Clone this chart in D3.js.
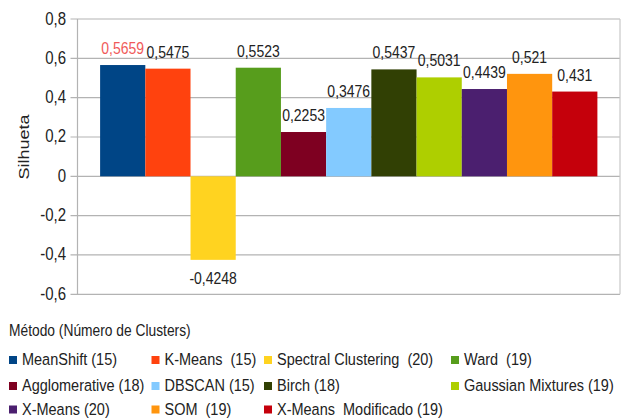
<!DOCTYPE html>
<html>
<head>
<meta charset="utf-8">
<script src="https://cdn.jsdelivr.net/npm/d3@7"></script>
<style>
  html, body { margin: 0; padding: 0; background: #fff; }
  svg text { font-family: "Liberation Sans", Arial, sans-serif; fill: #222; white-space: pre; }
</style>
</head>
<body>
<svg id="chart" width="627" height="419"></svg>
<script>
// ---- data ----
const methods = ["MeanShift", "K-Means", "Spectral Clustering", "Ward", "Agglomerative", "DBSCAN", "Birch", "Gaussian Mixtures", "X-Means", "SOM", "X-Means Modificado"];
const legendLabels = ["MeanShift (15)", "K-Means  (15)", "Spectral Clustering  (20)", "Ward  (19)", "Agglomerative (18)", "DBSCAN (15)", "Birch (18)", "Gaussian Mixtures (19)", "X-Means (20)", "SOM  (19)", "X-Means  Modificado (19)"];
const silhouette = [0.5659, 0.5475, -0.4248, 0.5523, 0.2253, 0.3476, 0.5437, 0.5031, 0.4439, 0.521, 0.431];
const valueLabels = ["0,5659", "0,5475", "-0,4248", "0,5523", "0,2253", "0,3476", "0,5437", "0,5031", "0,4439", "0,521", "0,431"];
const yTicks = [-0.6, -0.4, -0.2, 0, 0.2, 0.4, 0.6, 0.8];
const yTickLabels = ["-0,6", "-0,4", "-0,2", "0", "0,2", "0,4", "0,6", "0,8"];
const palette = ["#004586", "#ff420e", "#ffd320", "#579d1c", "#7e0021", "#83caff", "#314004", "#aecf00", "#4b1f6f", "#ff950e", "#c5000b"];
const yTitle = "Silhueta";
const legendTitle = "Método (Número de Clusters)";

// ---- layout ----
const svg = d3.select("#chart");
const plotL = 77.5, plotR = 620, plotT = 19, plotB = 294.3;
const SY = 1.2; // vertical text stretch

const x = d3.scaleBand().domain(methods).range([plotL, plotR]).paddingInner(0).paddingOuter(0.5);
const y = d3.scaleLinear().domain([-0.6, 0.8]).range([plotB, plotT]);
const color = d3.scaleOrdinal().domain(methods).range(palette);

function stext(g, px, py, str, size, anchor, fill) {
  return g.append("text")
    .attr("transform", `translate(${px},${py}) scale(1,${SY})`)
    .attr("text-anchor", anchor)
    .style("font-size", size + "px")
    .style("fill", fill || "#222")
    .text(str);
}

// gridlines + ticks
const grid = svg.append("g");
yTicks.forEach((t, i) => {
  grid.append("line")
    .attr("x1", plotL - 7).attr("x2", plotR)
    .attr("y1", y(t)).attr("y2", y(t))
    .attr("stroke", "#b3b3b3").attr("stroke-width", 1.2);
  stext(grid, 66, y(t) + 5.5, yTickLabels[i], 15, "end");
});
// frame
svg.append("line").attr("x1", plotL).attr("x2", plotL).attr("y1", plotT).attr("y2", plotB)
  .attr("stroke", "#b3b3b3").attr("stroke-width", 1.2);
svg.append("line").attr("x1", plotR).attr("x2", plotR).attr("y1", plotT).attr("y2", plotB)
  .attr("stroke", "#c8c8c8").attr("stroke-width", 1.2);

// bars
svg.append("g").selectAll("rect").data(methods).join("rect")
  .attr("x", d => x(d))
  .attr("width", x.bandwidth())
  .attr("y", (d, i) => y(Math.max(0, silhouette[i])))
  .attr("height", (d, i) => Math.abs(y(silhouette[i]) - y(0)))
  .attr("fill", d => color(d));

// value labels
const lab = svg.append("g");
methods.forEach((m, i) => {
  const v = silhouette[i];
  const cx = x(m) + x.bandwidth() / 2;
  const py = v >= 0 ? y(v) - 11 : y(v) + 24;
  stext(lab, cx, py, valueLabels[i], 14, "middle", i === 0 ? "#f05a5a" : "#222");
});

// y title
svg.append("text")
  .attr("transform", `translate(29,147) rotate(-90) scale(${SY},1)`)
  .attr("text-anchor", "middle")
  .style("font-size", "15px")
  .text(yTitle);

// legend
const leg = svg.append("g");
stext(leg, 9, 336, legendTitle, 13.8, "start");
const colX = [9, 151.5, 264, 451];
const rowY = [360, 386, 409.5];
methods.forEach((m, i) => {
  const r = Math.floor(i / 4), c = i % 4;
  leg.append("rect")
    .attr("x", colX[c]).attr("y", rowY[r] - 4)
    .attr("width", 8).attr("height", 8)
    .attr("fill", color(m));
  stext(leg, colX[c] + 13, rowY[r] + 5, legendLabels[i], 14.5, "start");
});
</script>
</body>
</html>
